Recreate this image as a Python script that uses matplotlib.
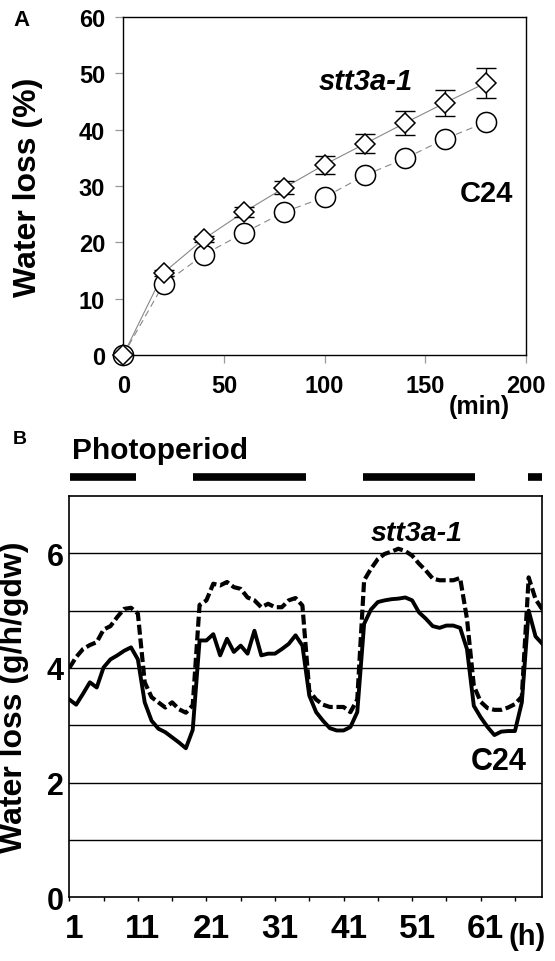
import numpy as np
import matplotlib
matplotlib.use("Agg")
import matplotlib.pyplot as plt
import matplotlib.transforms as mtransforms

plt.rcParams['font.family'] = ['Liberation Sans', 'DejaVu Sans']
plt.rcParams['font.weight'] = 'bold'

# ---- panel A data: water loss of detached leaves ----
minutes = [0, 20, 40, 60, 80, 100, 120, 140, 160, 180]
stt3a_loss = [0.0, 14.6, 20.6, 25.4, 29.7, 33.8, 37.5, 41.2, 44.8, 48.3]
stt3a_err = [0.0, 0.5, 0.6, 0.95, 1.2, 1.6, 1.7, 2.1, 2.3, 2.7]
c24_loss = [0.0, 12.6, 17.8, 21.7, 25.4, 28.0, 31.9, 34.9, 38.4, 41.3]

# ---- panel B data: transpiration over 70 h ----
hours = list(range(1, 71))
c24_rate = [3.45, 3.36, 3.55, 3.75, 3.66, 4.01, 4.15, 4.22, 4.30, 4.36,
            4.15, 3.40, 3.08, 2.94, 2.88, 2.79, 2.70, 2.60, 2.92, 4.48,
            4.48, 4.59, 4.22, 4.51, 4.28, 4.39, 4.25, 4.65, 4.22, 4.25,
            4.25, 4.33, 4.42, 4.57, 4.39, 3.52, 3.23, 3.08, 2.95, 2.91,
            2.91, 2.97, 3.23, 4.77, 5.02, 5.15, 5.18, 5.20, 5.21, 5.23,
            5.18, 4.97, 4.86, 4.73, 4.70, 4.74, 4.74, 4.70, 4.33, 3.34,
            3.14, 2.97, 2.83, 2.89, 2.90, 2.90, 3.40, 5.00, 4.55, 4.42]
stt3a_rate = [4.00, 4.19, 4.33, 4.40, 4.45, 4.67, 4.73, 4.89, 5.03, 5.05,
              4.95, 3.75, 3.49, 3.40, 3.31, 3.40, 3.28, 3.22, 3.35, 5.10,
              5.18, 5.47, 5.44, 5.50, 5.41, 5.38, 5.23, 5.18, 5.06, 5.12,
              5.06, 5.06, 5.18, 5.22, 5.09, 3.60, 3.45, 3.36, 3.32, 3.32,
              3.32, 3.23, 3.45, 5.53, 5.73, 5.90, 5.99, 6.03, 6.08, 6.04,
              5.96, 5.82, 5.70, 5.56, 5.53, 5.53, 5.53, 5.57, 4.86, 3.69,
              3.41, 3.30, 3.27, 3.27, 3.31, 3.37, 3.50, 5.58, 5.20, 5.02]
light_start = [1.1, 19.1, 43.9, 67.9]
light_end = [10.8, 35.5, 60.2, 69.9]

W, H = 555, 962


def fx(x):
    return x / W


def fy(y):
    return 1 - y / H


fig = plt.figure(figsize=(W / 100, H / 100), dpi=100)

# ================= panel A =================
axA = fig.add_axes([fx(123.3), fy(356), fx(526 - 123.3), (356 - 18) / H])
axA.plot(minutes, c24_loss, color='#888888', lw=0.8, ls=(0, (6, 4)), zorder=2)
axA.plot(minutes, stt3a_loss, color='#888888', lw=0.8, zorder=2)
axA.plot(minutes, c24_loss, ls='none', marker='o', ms=14.5, mfc='white',
         mec='black', mew=1.1, zorder=3, clip_on=False)
axA.errorbar(minutes, stt3a_loss, yerr=stt3a_err, fmt='none', ecolor='black',
             elinewidth=1.0, capsize=7, capthick=1.0, zorder=4)
axA.plot(minutes, stt3a_loss, ls='none', marker='D', ms=10, mfc='white',
         mec='black', mew=1.1, zorder=5, clip_on=False)

axA.set_xlim(0, 200)
axA.set_ylim(0, 60)
axA.set_xticks([0, 50, 100, 150, 200])
axA.set_yticks(range(0, 61, 10))
axA.tick_params(direction='out', length=6, width=0.9, color='#999999',
                labelsize=17, pad=7)
axA.tick_params(axis='x', pad=8)
for lab in axA.get_xticklabels() + axA.get_yticklabels():
    lab.set_fontweight('bold')
for s in axA.spines.values():
    s.set_linewidth(1.0)
axA.set_ylabel('Water loss (%)', fontsize=23, fontweight='bold')
axA.yaxis.set_label_coords(-(123.3 - 43.5) / (526 - 123.3), 0.5)

fig.text(fx(366), fy(82), 'stt3a-1', fontsize=21, fontweight='bold',
         fontstyle='italic', ha='center', va='center')
fig.text(fx(486), fy(194), 'C24', fontsize=21, fontweight='bold',
         ha='center', va='center')
fig.text(fx(479), fy(407), '(min)', fontsize=18, fontweight='bold',
         ha='center', va='center')
fig.text(fx(21), fy(20), 'A', fontsize=16, fontweight='bold',
         ha='center', va='center')

# ================= panel B =================
axB = fig.add_axes([fx(69.3), fy(898.3), fx(541.7 - 69.3), (898.3 - 497) / H])
axB.set_xlim(1, 69.9)
axB.set_ylim(0, 7)
for yv in range(1, 7):
    axB.axhline(yv, color='black', lw=1.0, zorder=1)
axB.plot(hours, c24_rate, color='black', lw=2.8, zorder=3,
         solid_joinstyle='round')
axB.plot(hours, stt3a_rate, color='black', lw=3.0, ls=(0, (2.4, 0.9)),
         zorder=4)

axB.set_yticks([0, 2, 4, 6])
axB.tick_params(axis='y', length=0, labelsize=22, pad=4)
axB.set_xticks(list(range(1, 62, 10)))
axB.set_xticks(list(range(6, 67, 10)), minor=True)
axB.tick_params(axis='x', which='both', direction='out', length=3, width=1.0,
                labelsize=24, pad=8)
shift = mtransforms.ScaledTranslation(5 / 100, 0, fig.dpi_scale_trans)
for lab in axB.get_xticklabels():
    lab.set_transform(lab.get_transform() + shift)
for lab in axB.get_xticklabels() + axB.get_yticklabels():
    lab.set_fontweight('bold')
for s in axB.spines.values():
    s.set_linewidth(1.2)
axB.set_ylabel('Water loss (g/h/gdw)', fontsize=23, fontweight='bold')
axB.yaxis.set_label_coords(-(69.3 - 29) / (541.7 - 69.3), 0.5)

# photoperiod bars above the plot
trans = mtransforms.blended_transform_factory(axB.transData, axB.transAxes)
for s0, s1 in zip(light_start, light_end):
    axB.plot([s0, s1], [1.047, 1.047], color='black', lw=5.5,
             solid_capstyle='butt', transform=trans, clip_on=False)

fig.text(fx(71.7), fy(459.3), 'Photoperiod', fontsize=21.5,
         fontweight='bold', ha='left', va='baseline')
fig.text(fx(417), fy(534), 'stt3a-1', fontsize=20.5, fontweight='bold',
         fontstyle='italic', ha='center', va='center')
fig.text(fx(499), fy(762), 'C24', fontsize=22, fontweight='bold',
         ha='center', va='center')
fig.text(fx(527), fy(937), '(h)', fontsize=21, fontweight='bold',
         ha='center', va='center')
fig.text(fx(20), fy(440), 'B', fontsize=14, fontweight='bold',
         ha='center', va='center')

fig.savefig('out.png', dpi=100)
